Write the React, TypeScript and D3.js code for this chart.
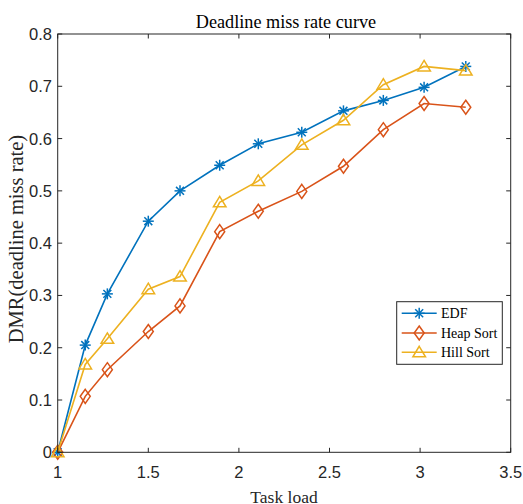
import React from "react";
import * as d3 from "d3";

// task load values (x)
const taskLoad = [1, 1.152, 1.274, 1.5, 1.675, 1.894, 2.107, 2.347, 2.577, 2.797, 3.022, 3.252];
const edf = [0, 0.205, 0.303, 0.442, 0.5, 0.549, 0.59, 0.612, 0.653, 0.673, 0.698, 0.738];
const heapSort = [0, 0.107, 0.158, 0.231, 0.28, 0.422, 0.461, 0.499, 0.547, 0.617, 0.667, 0.66];
const hillSort = [0, 0.168, 0.217, 0.312, 0.336, 0.478, 0.519, 0.588, 0.635, 0.703, 0.738, 0.73];
const xTicks = [1, 1.5, 2, 2.5, 3, 3.5];
const yTicks = [0, 0.1, 0.2, 0.3, 0.4, 0.5, 0.6, 0.7, 0.8];
const seriesNames = ["EDF", "Heap Sort", "Hill Sort"];

const W = 523;
const H = 504;
const left = 57.7;
const right = 510.7;
const top = 34;
const bottom = 452.3;
const colors = ["#0072BD", "#D95319", "#EDB120"];
const axisColor = "#262626";
const serif = "'Liberation Serif', 'Times New Roman', serif";
const sans = "'Liberation Sans', Arial, sans-serif";

const Marker = ({ kind, x, y, color }: { kind: number; x: number; y: number; color: string }) => {
  if (kind === 0) {
    const r = 5.5;
    const d = r * 0.72;
    return (
      <g stroke={color} strokeWidth={1.5}>
        <line x1={x - r} y1={y} x2={x + r} y2={y} />
        <line x1={x} y1={y - r} x2={x} y2={y + r} />
        <line x1={x - d} y1={y - d} x2={x + d} y2={y + d} />
        <line x1={x - d} y1={y + d} x2={x + d} y2={y - d} />
      </g>
    );
  }
  if (kind === 1) {
    const w = 5;
    const h = 7;
    return (
      <path
        d={`M${x},${y - h}L${x + w},${y}L${x},${y + h}L${x - w},${y}Z`}
        fill="none"
        stroke={color}
        strokeWidth={1.5}
      />
    );
  }
  const s = 6;
  return (
    <path
      d={`M${x},${y - s}L${x + s * 1.05},${y + s * 0.75}L${x - s * 1.05},${y + s * 0.75}Z`}
      fill="none"
      stroke={color}
      strokeWidth={1.5}
    />
  );
};

const App = () => {
  const x = d3.scaleLinear().domain([1, 3.5]).range([left, right]);
  const y = d3.scaleLinear().domain([0, 0.8]).range([bottom, top]);
  const series = [edf, heapSort, hillSort];
  const line = d3
    .line<number>()
    .x((_, i) => x(taskLoad[i]))
    .y((d) => y(d));

  const tick = 4.5;
  const legX = 396.7;
  const legY = 301.7;
  const rowY = [313.3, 333, 352.3];

  return (
    <svg
      width={W}
      height={H}
      style={{ position: "absolute", left: 0, top: 0, background: "#fff" }}
    >
      <rect x={0} y={0} width={W} height={H} fill="#fff" />

      {/* series */}
      {series.map((s, k) => (
        <g key={seriesNames[k]}>
          <path d={line(s) || ""} fill="none" stroke={colors[k]} strokeWidth={1.6} />
          {s.map((v, i) => (
            <Marker key={i} kind={k} x={x(taskLoad[i])} y={y(v)} color={colors[k]} />
          ))}
        </g>
      ))}

      {/* axes box */}
      <rect
        x={left}
        y={top}
        width={right - left}
        height={bottom - top}
        fill="none"
        stroke={axisColor}
        strokeWidth={1}
      />
      {xTicks.map((t) => (
        <g key={"x" + t}>
          <line x1={x(t)} x2={x(t)} y1={bottom} y2={bottom - tick} stroke={axisColor} />
          <line x1={x(t)} x2={x(t)} y1={top} y2={top + tick} stroke={axisColor} />
          <text
            x={x(t)}
            y={478}
            textAnchor="middle"
            fontFamily={sans}
            fontSize={16.5}
            fill={axisColor}
          >
            {t}
          </text>
        </g>
      ))}
      {yTicks.map((t) => (
        <g key={"y" + t}>
          <line x1={left} x2={left + tick} y1={y(t)} y2={y(t)} stroke={axisColor} />
          <line x1={right} x2={right - tick} y1={y(t)} y2={y(t)} stroke={axisColor} />
          <text
            x={52}
            y={y(t)}
            dy="0.36em"
            textAnchor="end"
            fontFamily={sans}
            fontSize={16.5}
            fill={axisColor}
          >
            {t}
          </text>
        </g>
      ))}

      {/* title and labels */}
      <text x={286} y={27.7} textAnchor="middle" fontFamily={serif} fontSize={18.2} fill="#000">
        Deadline miss rate curve
      </text>
      <text x={284} y={503} textAnchor="middle" fontFamily={serif} fontSize={17.5} fill={axisColor}>
        Task load
      </text>
      <text
        transform={`translate(23,239) rotate(-90)`}
        textAnchor="middle"
        fontFamily={serif}
        fontSize={20.5}
        fill={axisColor}
      >
        DMR(deadline miss rate)
      </text>

      {/* legend */}
      <rect x={legX} y={legY} width={105.6} height={62.6} fill="#fff" stroke={axisColor} strokeWidth={1} />
      {seriesNames.map((n, k) => (
        <g key={n}>
          <line x1={401.7} x2={436.7} y1={rowY[k]} y2={rowY[k]} stroke={colors[k]} strokeWidth={1.6} />
          <Marker kind={k} x={419.2} y={rowY[k]} color={colors[k]} />
          <text x={441} y={rowY[k]} dy="0.33em" fontFamily={serif} fontSize={14} fill="#000">
            {n}
          </text>
        </g>
      ))}
    </svg>
  );
};

export default App;
